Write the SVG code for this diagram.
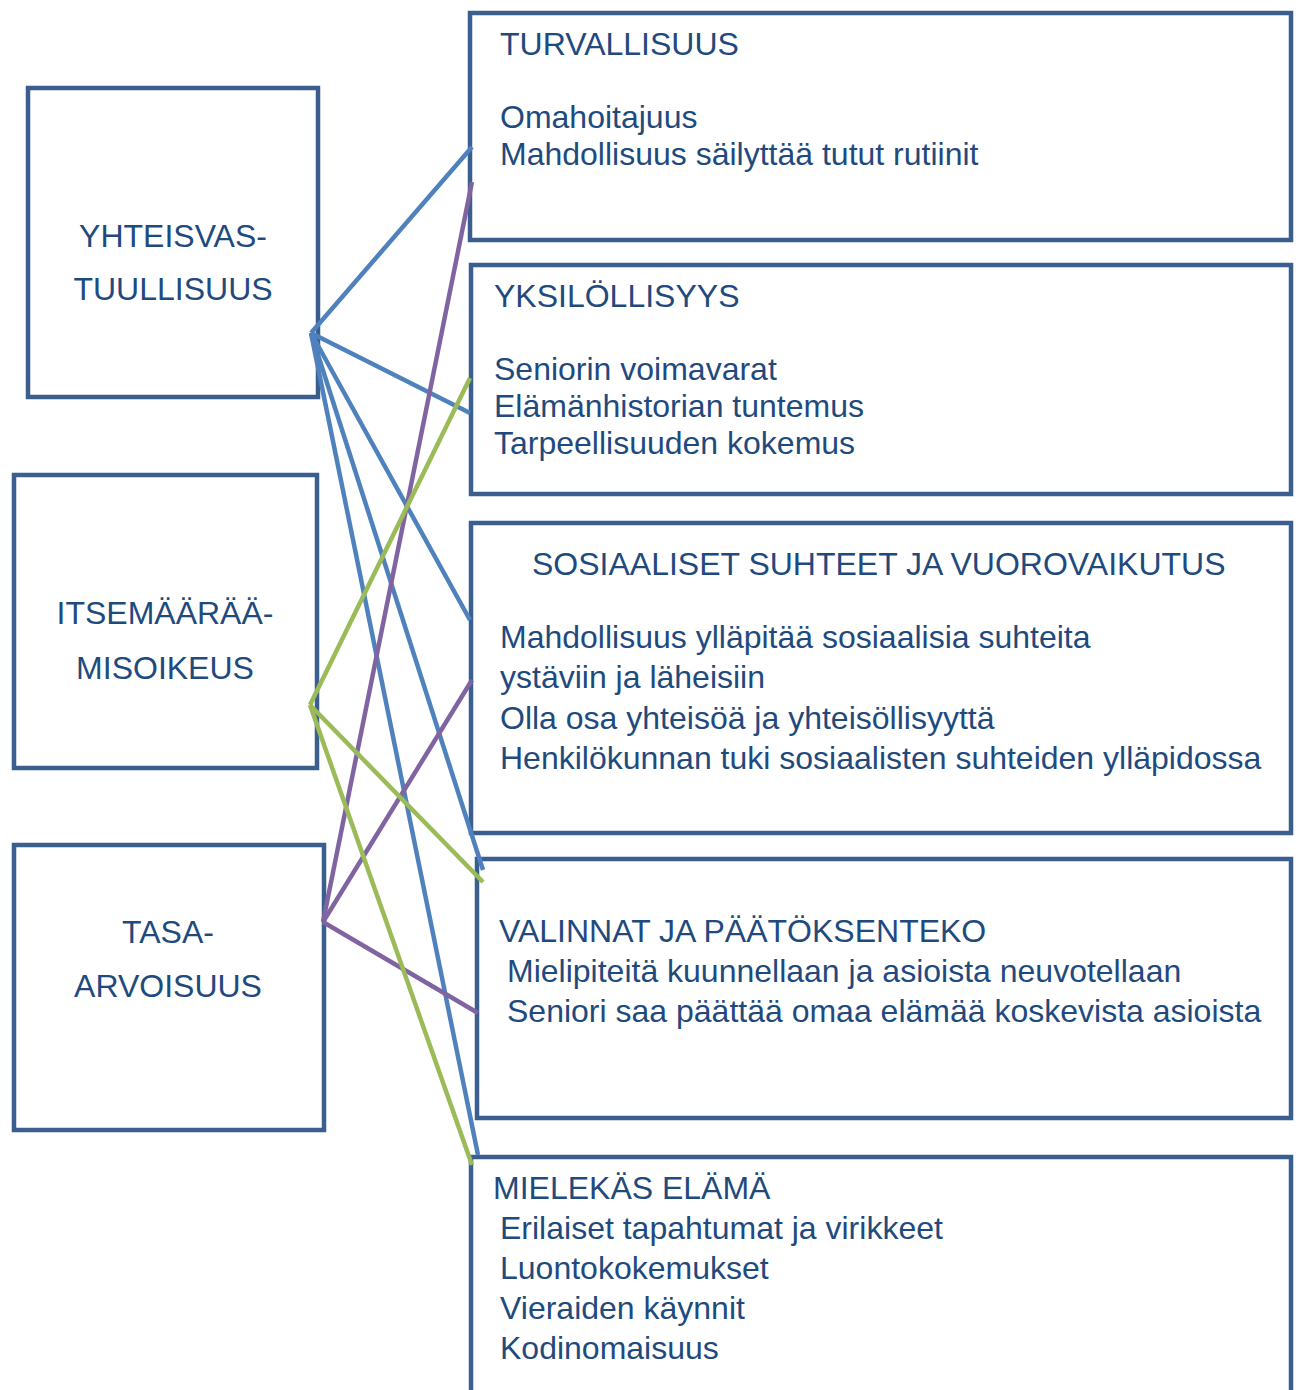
<svg xmlns="http://www.w3.org/2000/svg" width="1299" height="1390" viewBox="0 0 1299 1390">
<style>
.box{fill:#fff;stroke:#3a5f8f;stroke-width:4.5}
.t{font-family:"Liberation Sans",Arial,sans-serif;font-size:32px;fill:#1f4a7e}
.c{text-anchor:middle}
.b{stroke:#4f81bd;stroke-width:4.5;fill:none}
.p{stroke:#8064a2;stroke-width:4.5;fill:none}
.g{stroke:#9bbb59;stroke-width:4.5;fill:none}
</style>
<rect width="1299" height="1390" fill="#fff"/>
<g id="yhteisvastuullisuus">
<rect class="box" x="28" y="88" width="290" height="309"/>
<text class="t c" x="173" y="247">YHTEISVAS-</text>
<text class="t c" x="173" y="300">TUULLISUUS</text>
</g>
<g id="itsemaaraamisoikeus">
<rect class="box" x="14" y="475" width="303" height="293"/>
<text class="t c" x="165" y="624">ITSEMÄÄRÄÄ-</text>
<text class="t c" x="165" y="679">MISOIKEUS</text>
</g>
<g id="tasaarvoisuus">
<rect class="box" x="14" y="845" width="310" height="285"/>
<text class="t c" x="168" y="943">TASA-</text>
<text class="t c" x="168" y="997">ARVOISUUS</text>
</g>
<g id="turvallisuus">
<rect class="box" x="470" y="13" width="821" height="227"/>
<text class="t" x="500" y="55">TURVALLISUUS</text>
<text class="t" x="500" y="128">Omahoitajuus</text>
<text class="t" x="500" y="165">Mahdollisuus säilyttää tutut rutiinit</text>
</g>
<g id="yksilollisyys">
<rect class="box" x="471" y="265" width="820" height="229"/>
<text class="t" x="494" y="307">YKSILÖLLISYYS</text>
<text class="t" x="494" y="380">Seniorin voimavarat</text>
<text class="t" x="494" y="417">Elämänhistorian tuntemus</text>
<text class="t" x="494" y="454">Tarpeellisuuden kokemus</text>
</g>
<g id="sosiaaliset">
<rect class="box" x="471" y="523" width="820" height="310"/>
<text class="t" x="532" y="575">SOSIAALISET SUHTEET JA VUOROVAIKUTUS</text>
<text class="t" x="500" y="648">Mahdollisuus ylläpitää sosiaalisia suhteita</text>
<text class="t" x="500" y="688">ystäviin ja läheisiin</text>
<text class="t" x="500" y="729">Olla osa yhteisöä ja yhteisöllisyyttä</text>
<text class="t" x="500" y="769">Henkilökunnan tuki sosiaalisten suhteiden ylläpidossa</text>
</g>
<g id="valinnat">
<rect class="box" x="477" y="859" width="814" height="259"/>
<text class="t" x="499" y="942">VALINNAT JA PÄÄTÖKSENTEKO</text>
<text class="t" x="507" y="982">Mielipiteitä kuunnellaan ja asioista neuvotellaan</text>
<text class="t" x="507" y="1022">Seniori saa päättää omaa elämää koskevista asioista</text>
</g>
<g id="mielekas">
<rect class="box" x="471" y="1157" width="820" height="260"/>
<text class="t" x="493" y="1199">MIELEKÄS ELÄMÄ</text>
<text class="t" x="500" y="1239">Erilaiset tapahtumat ja virikkeet</text>
<text class="t" x="500" y="1279">Luontokokemukset</text>
<text class="t" x="500" y="1319">Vieraiden käynnit</text>
<text class="t" x="500" y="1359">Kodinomaisuus</text>
</g>
<g id="connectors">
<line class="b" x1="311" y1="333" x2="472" y2="147"/>
<line class="b" x1="311" y1="333" x2="470" y2="413"/>
<line class="b" x1="311" y1="333" x2="470" y2="620"/>
<line class="b" x1="311" y1="333" x2="483" y2="870"/>
<line class="b" x1="311" y1="333" x2="478" y2="1155"/>
<line class="p" x1="472" y1="182" x2="323" y2="922"/>
<line class="p" x1="323" y1="922" x2="472" y2="680"/>
<line class="p" x1="323" y1="922" x2="478" y2="1013"/>
<line class="g" x1="310" y1="705" x2="470" y2="378"/>
<line class="g" x1="310" y1="705" x2="483" y2="882"/>
<line class="g" x1="310" y1="705" x2="472" y2="1165"/>
</g>
</svg>
